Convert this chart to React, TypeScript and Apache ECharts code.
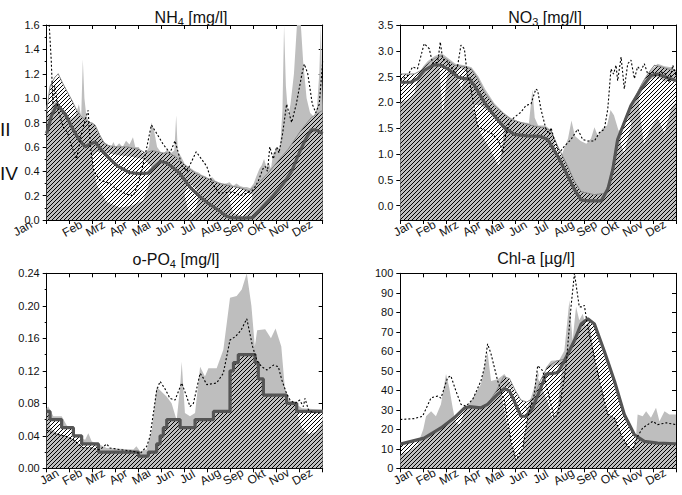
import React, { useEffect, useRef } from 'react';
import * as echarts from 'echarts';

type P = [number, number];
type H = [number, number, number][];

const months = ['Jan', 'Feb', 'Mrz', 'Apr', 'Mai', 'Jun', 'Jul', 'Aug', 'Sep', 'Okt', 'Nov', 'Dez'];
const monthTicks = [0, 1, 2, 3, 4, 5, 6, 7, 8, 9, 10, 11, 12];

// ---------- NH4 ----------
const nh4YTicks = [0, 0.2, 0.4, 0.6, 0.8, 1.0, 1.2, 1.4, 1.6];
const nh4Grey: P[] = [[0,0.95],[0.1,0.85],[0.25,0.95],[0.45,0.98],[0.65,0.92],[0.85,0.88],[1.05,0.83],[1.25,0.86],[1.4,0.95],[1.5,0.85],[1.57,1.32],[1.64,1.0],[1.72,0.86],[1.85,0.8],[2.0,0.8],[2.2,0.74],[2.35,0.68],[2.5,0.64],[2.65,0.62],[2.8,0.6],[2.9,0.64],[3.0,0.6],[3.15,0.63],[3.3,0.6],[3.45,0.65],[3.6,0.62],[3.75,0.68],[3.85,0.6],[4.0,0.6],[4.15,0.55],[4.3,0.55],[4.45,0.6],[4.55,0.8],[4.65,0.75],[4.8,0.6],[4.95,0.56],[5.1,0.55],[5.25,0.58],[5.4,0.55],[5.55,0.57],[5.63,0.86],[5.7,0.56],[5.85,0.52],[6.0,0.46],[6.15,0.44],[6.3,0.42],[6.45,0.4],[6.6,0.39],[6.75,0.37],[6.9,0.36],[7.05,0.34],[7.2,0.35],[7.35,0.32],[7.5,0.31],[7.65,0.3],[7.8,0.3],[7.95,0.31],[8.1,0.28],[8.25,0.3],[8.4,0.28],[8.55,0.27],[8.7,0.27],[8.85,0.26],[9.0,0.3],[9.1,0.35],[9.25,0.42],[9.35,0.45],[9.45,0.5],[9.55,0.44],[9.65,0.47],[9.75,0.42],[9.85,0.55],[10.0,0.58],[10.15,0.6],[10.25,0.9],[10.32,1.6],[10.4,1.1],[10.5,0.85],[10.6,0.95],[10.75,1.2],[10.88,1.6],[11.05,1.6],[11.15,1.3],[11.3,1.0],[11.45,0.88],[11.6,0.85],[11.75,0.92],[11.85,1.2],[11.92,1.6],[12,0.95]];
const nh4Hatch: P[] = [[0,0.9],[0.15,1.1],[0.35,1.17],[0.5,1.2],[0.7,1.12],[0.9,1.05],[1.1,0.98],[1.3,0.9],[1.5,0.85],[1.7,0.82],[1.9,0.8],[2.1,0.78],[2.3,0.7],[2.5,0.63],[2.7,0.61],[3.0,0.6],[3.5,0.6],[4.0,0.58],[4.3,0.55],[4.6,0.57],[5.0,0.55],[5.3,0.55],[5.6,0.52],[5.9,0.47],[6.2,0.42],[6.5,0.38],[7.0,0.34],[7.5,0.3],[8.0,0.28],[8.5,0.26],[8.8,0.24],[9.0,0.27],[9.3,0.32],[9.6,0.38],[10.0,0.47],[10.5,0.58],[11.0,0.72],[11.5,0.84],[12,0.9]];
const nh4Model: P[] = [[0,0.71],[0.2,0.85],[0.45,0.95],[0.8,0.87],[1.1,0.76],[1.4,0.66],[1.67,0.6],[1.85,0.62],[2.1,0.64],[2.4,0.57],[2.75,0.5],[3.1,0.44],[3.6,0.39],[4.0,0.38],[4.4,0.385],[4.7,0.44],[4.95,0.48],[5.2,0.47],[5.5,0.43],[5.8,0.38],[6.23,0.27],[6.67,0.19],[7.0,0.14],[7.39,0.09],[7.83,0.03],[8.0,0.02],[8.5,0.015],[8.95,0.02],[9.2,0.07],[9.5,0.13],[9.85,0.2],[10.3,0.3],[10.65,0.4],[11.0,0.56],[11.25,0.66],[11.5,0.74],[11.7,0.74],[12,0.71]];
const nh4Obs: P[] = [[0.08,1.7],[0.2,1.3],[0.27,0.95],[0.35,1.1],[0.5,0.9],[0.65,0.8],[0.75,0.75],[0.9,0.72],[1.1,0.6],[1.3,0.5],[1.5,0.7],[1.67,0.82],[1.8,0.9],[1.9,0.6],[2.05,0.4],[2.3,0.33],[2.75,0.3],[3.05,0.25],[3.5,0.21],[3.77,0.2],[3.9,0.26],[4.1,0.38],[4.3,0.55],[4.55,0.78],[4.75,0.72],[5.07,0.62],[5.36,0.55],[5.58,0.65],[5.87,0.45],[6.1,0.4],[6.5,0.56],[6.96,0.44],[7.2,0.3],[7.5,0.22],[8.1,0.23],[8.4,0.2],[8.7,0.22],[9.0,0.25],[9.2,0.32],[9.4,0.42],[9.5,0.44],[9.6,0.4],[9.7,0.6],[9.85,0.5],[10.0,0.6],[10.1,0.55],[10.25,0.7],[10.43,0.95],[10.65,0.8],[10.85,0.95],[11.1,1.2],[11.2,1.28],[11.35,1.2],[11.55,0.95],[11.7,0.88],[11.85,0.95],[12,1.3]];
const nh4Holes: H[] = [
  [[1.95,0.5,0.52],[2.2,0.28,0.56],[2.6,0.15,0.55],[3.2,0.1,0.53],[3.7,0.12,0.52],[4.2,0.16,0.5],[4.45,0.3,0.46],[4.55,0.43,0.44]],
  [[6.0,0.2,0.22],[6.15,0.08,0.3],[6.35,0.05,0.28],[6.5,0.1,0.25],[6.6,0.2,0.21]],
  [[7.9,0.2,0.22],[8.1,0.06,0.27],[8.5,0.03,0.25],[8.8,0.08,0.22],[8.95,0.2,0.21]],
];

// ---------- NO3 ----------
const no3YTicks = [0, 0.5, 1.0, 1.5, 2.0, 2.5, 3.0, 3.5];
const no3YMin = -0.28;
const no3Grey: P[] = [[0,2.0],[0.3,2.05],[0.6,2.15],[0.8,2.55],[1.0,2.7],[1.2,2.8],[1.5,2.9],[1.8,2.95],[2.1,2.85],[2.4,2.75],[2.8,2.72],[3.1,2.68],[3.4,2.5],[3.7,2.25],[4.1,1.98],[4.5,1.8],[4.8,1.7],[5.2,1.62],[5.6,1.6],[5.75,2.25],[5.85,1.7],[6.0,1.55],[6.3,1.55],[6.6,1.45],[6.8,1.0],[7.0,0.95],[7.3,1.3],[7.45,1.65],[7.6,1.35],[7.85,1.25],[8.1,1.2],[8.3,1.3],[8.45,1.52],[8.6,1.35],[8.8,1.5],[9.0,1.55],[9.15,1.85],[9.3,1.75],[9.5,1.45],[9.65,1.5],[9.8,1.7],[10.0,1.95],[10.3,2.2],[10.6,2.45],[10.9,2.62],[11.2,2.75],[11.5,2.7],[11.8,2.68],[12,2.62]];
const no3Hatch: P[] = [[0,2.55],[0.61,2.55],[0.9,2.62],[1.19,2.75],[1.48,2.85],[1.77,2.9],[2.06,2.82],[2.35,2.72],[2.79,2.69],[3.08,2.65],[3.37,2.46],[3.66,2.2],[4.09,1.94],[4.53,1.77],[4.82,1.67],[5.25,1.61],[5.83,1.54],[6.27,1.51],[6.56,1.45],[6.85,1.15],[7.29,0.76],[7.58,0.47],[7.87,0.27],[8.45,0.21],[8.88,0.24],[9.1,0.44],[9.32,0.96],[9.61,1.48],[9.9,1.81],[10.19,2.07],[10.48,2.33],[10.77,2.55],[11.06,2.72],[11.35,2.69],[11.64,2.65],[12,2.62]];
const no3Model: P[] = [[0,2.39],[0.46,2.39],[0.75,2.46],[1.04,2.62],[1.48,2.73],[1.77,2.72],[2.06,2.65],[2.5,2.49],[2.79,2.46],[3.0,2.46],[3.22,2.33],[3.66,2.0],[4.09,1.74],[4.53,1.51],[4.96,1.38],[5.54,1.35],[6.12,1.34],[6.41,1.28],[6.85,0.96],[7.29,0.57],[7.58,0.31],[7.87,0.11],[8.16,0.09],[8.74,0.09],[9.03,0.31],[9.25,0.7],[9.46,1.28],[9.75,1.61],[10.04,1.94],[10.48,2.26],[10.91,2.52],[11.2,2.55],[12,2.42]];
const no3Obs: P[] = [[0,2.42],[0.32,2.52],[0.54,2.69],[0.75,2.65],[1.04,3.14],[1.26,3.04],[1.41,2.75],[1.63,2.78],[1.74,3.17],[1.84,2.85],[2.06,2.78],[2.35,2.59],[2.5,2.72],[2.64,3.11],[2.79,3.04],[2.9,2.59],[3.08,2.26],[3.22,1.87],[3.37,1.54],[3.58,1.48],[3.95,1.41],[4.24,1.28],[4.38,1.15],[4.46,1.02],[4.6,1.41],[4.75,1.61],[4.96,1.71],[5.25,1.81],[5.47,1.94],[5.69,1.97],[5.9,2.26],[5.98,2.23],[6.12,1.87],[6.34,1.48],[6.49,1.38],[6.56,1.51],[6.7,1.28],[6.92,1.02],[7.14,1.15],[7.43,1.28],[7.72,1.48],[7.94,1.28],[8.16,1.25],[8.45,1.25],[8.66,1.41],[8.88,1.48],[9.03,1.87],[9.17,2.65],[9.28,2.55],[9.39,2.72],[9.46,2.42],[9.61,2.88],[9.75,2.26],[9.9,2.75],[10.04,2.82],[10.19,2.46],[10.33,2.69],[10.48,2.62],[10.62,2.75],[10.77,2.55],[10.99,2.59],[11.2,2.46],[11.35,2.59],[11.55,2.55],[11.71,2.39],[11.86,2.72],[12,2.52]];
const no3Holes: H[] = [
  [[1.7,2.7,2.75],[1.85,1.7,2.75],[2.0,2.4,2.7],[2.1,2.66,2.68]],
  [[2.45,2.6,2.62],[2.65,2.25,2.66],[2.9,2.58,2.6]],
  [[3.15,1.9,1.95],[3.5,1.4,1.95],[3.9,1.1,1.8],[4.3,0.75,1.65],[4.45,1.2,1.5],[4.5,1.45,1.5]],
  [[9.6,1.2,1.3],[9.75,1.0,1.6],[9.9,1.3,1.7],[10.05,1.55,1.6]],
  [[10.4,1.9,2.1],[10.6,1.2,2.35],[10.9,1.5,2.45],[11.2,1.7,2.5],[11.5,1.4,2.4],[11.8,1.9,2.45],[12,2.0,2.4]],
];

// ---------- o-PO4 ----------
const po4YTicks = [0, 0.04, 0.08, 0.12, 0.16, 0.2, 0.24];
const po4Grey: P[] = [[0,0.074],[0.07,0.076],[0.29,0.064],[0.65,0.064],[0.87,0.053],[1.09,0.047],[1.3,0.039],[1.67,0.035],[1.81,0.043],[1.96,0.033],[2.32,0.029],[2.61,0.025],[3.77,0.023],[3.9,0.027],[4.06,0.021],[4.35,0.023],[4.57,0.047],[4.78,0.1],[4.93,0.096],[5.22,0.088],[5.43,0.08],[5.65,0.059],[5.8,0.1],[5.87,0.131],[6.01,0.068],[6.23,0.064],[6.45,0.068],[6.67,0.125],[6.88,0.113],[7.03,0.123],[7.39,0.123],[7.68,0.146],[7.97,0.21],[8.26,0.212],[8.48,0.22],[8.7,0.24],[8.9,0.2],[9.05,0.15],[9.15,0.17],[9.5,0.171],[9.75,0.16],[9.95,0.172],[10.2,0.15],[10.35,0.1],[10.5,0.085],[10.8,0.08],[11.1,0.074],[12,0.072]];
const po4Model: P[] = [[0,0.07],[0.145,0.06],[0.65,0.05],[1.16,0.04],[1.52,0.03],[2.25,0.02],[3.99,0.015],[4.42,0.02],[4.78,0.03],[4.93,0.04],[5.07,0.05],[5.22,0.06],[5.8,0.05],[6.45,0.06],[7.25,0.07],[7.97,0.12],[8.12,0.13],[8.33,0.14],[9.06,0.13],[9.2,0.11],[9.42,0.09],[10.43,0.08],[10.87,0.07],[12,0.07]];
const po4Obs: P[] = [[0,0.047],[0.29,0.043],[0.87,0.039],[1.16,0.035],[1.59,0.025],[1.96,0.025],[2.17,0.023],[2.32,0.023],[2.61,0.03],[2.75,0.025],[3.19,0.023],[3.77,0.021],[4.06,0.018],[4.35,0.027],[4.49,0.039],[4.64,0.068],[4.78,0.096],[4.93,0.107],[5.14,0.098],[5.36,0.086],[5.58,0.084],[5.87,0.105],[6.09,0.088],[6.23,0.076],[6.38,0.08],[6.67,0.117],[6.81,0.111],[6.96,0.103],[7.39,0.105],[7.68,0.117],[7.97,0.158],[8.2,0.162],[8.45,0.17],[8.7,0.184],[8.95,0.15],[9.15,0.132],[9.35,0.125],[9.57,0.121],[9.86,0.127],[10.07,0.125],[10.22,0.109],[10.43,0.092],[10.58,0.084],[10.8,0.08],[11.0,0.084],[11.16,0.076],[11.23,0.086],[11.38,0.072],[11.59,0.068],[12,0.068]];
const po4Holes: H[] = [
  [[0.15,0.05,0.058],[0.4,0.044,0.059],[0.6,0.042,0.059],[0.66,0.041,0.049],[0.9,0.039,0.049],[1.15,0.036,0.049],[1.18,0.035,0.039],[1.5,0.028,0.039],[1.54,0.026,0.029],[2.0,0.025,0.029],[2.2,0.023,0.025]],
  [[10.9,0.066,0.067],[11.1,0.05,0.069],[11.4,0.042,0.069],[11.7,0.045,0.069],[11.95,0.055,0.069],[12,0.06,0.069]],
];

// ---------- Chl-a ----------
const chlYTicks = [0, 10, 20, 30, 40, 50, 60, 70, 80, 90, 100];
const chlGrey: P[] = [[0,7],[0.4,9],[0.75,12],[1.0,20],[1.12,26.7],[1.34,29.3],[1.55,26.7],[1.77,32.8],[1.99,48.3],[2.13,41.4],[2.28,31],[2.4,24],[2.6,22],[2.8,30],[3.08,34.5],[3.51,43.1],[3.8,59.5],[3.95,44.8],[4.24,45.7],[4.53,48.3],[4.82,43.1],[5.11,34.5],[5.33,32.8],[5.54,31],[5.83,41.4],[5.98,50],[6.12,43.1],[6.34,51.7],[6.56,55.2],[6.92,55.5],[7.14,60.3],[7.36,86.2],[7.5,65.5],[7.65,82.8],[7.79,75.9],[7.94,79.3],[8.08,72.4],[8.23,75.9],[8.35,65],[8.45,57],[8.74,41.4],[9.03,27.6],[9.32,25.9],[9.61,17.2],[9.9,11.2],[10.12,9.5],[10.25,15],[10.33,27.6],[10.55,26.7],[10.7,29.3],[10.91,25.9],[11.13,31],[11.28,24.1],[11.5,29.3],[11.71,27.6],[12,27.6]];
const chlHatch: P[] = [[0,12.4],[1.0,15.5],[1.8,21],[2.35,26],[2.8,31],[3.5,31.5],[3.8,33],[4.2,40],[4.5,47],[4.75,46],[5.0,40],[5.25,35],[5.5,34],[5.8,36],[6.1,45],[6.4,52],[6.8,55],[7.14,56],[7.6,66],[7.9,74],[8.16,77],[8.45,74],[8.9,60],[9.3,45],[9.75,28],[10.2,17],[10.6,13.5],[11.2,12.8],[12,12.6]];
const chlModel: P[] = [[0,12.4],[1.04,15.5],[1.77,20.7],[2.35,25.9],[2.8,31],[3.0,31.6],[3.5,31],[3.8,32.8],[4.24,38],[4.53,40.9],[4.75,39.7],[4.96,34.5],[5.25,26.7],[5.47,26.7],[5.76,31],[6.12,41.4],[6.34,48.3],[6.85,49],[7.14,55],[7.58,65.5],[7.87,74],[8.16,76.7],[8.45,74],[8.88,60],[9.32,44.8],[9.75,27.6],[10.19,17.2],[10.62,13.8],[11.2,12.9],[12,12.6]];
const chlObs: P[] = [[0,25],[0.61,25.5],[0.97,26.7],[1.34,36.2],[1.63,37],[1.77,36],[2.06,46.5],[2.2,47.4],[2.42,39.7],[2.64,32.8],[2.86,31.9],[3.15,35.3],[3.51,44.8],[3.66,51.7],[3.8,63.8],[3.95,58.6],[4.24,44.8],[4.53,34.5],[4.82,13.8],[5.04,4.3],[5.33,10.3],[5.54,25.9],[5.83,37.9],[5.98,52.6],[6.2,50],[6.42,39.7],[6.7,25.9],[6.85,27.6],[7.0,36.2],[7.21,51.7],[7.43,82.8],[7.58,100],[7.79,82.8],[7.94,82.8],[8.01,83.6],[8.16,72.4],[8.45,56.9],[8.74,41.4],[9.03,27.6],[9.32,25.9],[9.61,17.2],[9.9,11.2],[10.12,9.5],[10.33,16.4],[10.55,20.7],[10.99,24.1],[11.2,22.4],[11.57,23.3],[12,22.4]];
const chlHoles: H[] = [
  [[4.4,38,40],[4.6,25,42],[4.82,13.8,41],[5.04,4.3,37],[5.2,7,34],[5.33,10.3,33],[5.45,20,31],[5.55,26,28],[5.6,29,29.5]],
  [[6.0,46,47],[6.2,40,50],[6.42,34,51],[6.6,26,52],[6.72,26,53],[6.85,31,53],[6.95,42,53],[7.05,52,53]],
];

// ---------- styling ----------
const FONT = '"Liberation Sans", Arial, Helvetica, sans-serif';
const GREY = '#bebebe';
const DARK = '#555555';
const hatchSvg =
  '<svg xmlns="http://www.w3.org/2000/svg" width="4" height="4">' +
  '<path d="M-1,1 L1,-1 M0,4 L4,0 M3,5 L5,3" stroke="#000" stroke-width="1"/></svg>';
const HATCH: any = {
  image: 'data:image/svg+xml;charset=utf-8,' + encodeURIComponent(hatchSvg),
  repeat: 'repeat',
  imageWidth: 4,
  imageHeight: 4,
};

const panels = [
  { grid: { left: 46.7, top: 25, width: 276, height: 195 }, grey: nh4Grey, hatch: nh4Hatch, model: nh4Model, obs: nh4Obs, holes: nh4Holes, step: false, ticks: nh4YTicks, yMin: 0, custom: false, dec: 1, minor: true, title: ['NH', '4', ' [mg/l]'], tx: 191, ty: 7 },
  { grid: { left: 400.3, top: 25, width: 275.7, height: 195 }, grey: no3Grey, hatch: no3Hatch, model: no3Model, obs: no3Obs, holes: no3Holes, step: false, ticks: no3YTicks, yMin: no3YMin, custom: true, dec: 1, minor: false, title: ['NO', '3', ' [mg/l]'], tx: 545, ty: 7 },
  { grid: { left: 46.7, top: 273.3, width: 276, height: 195 }, grey: po4Grey, hatch: po4Model, model: po4Model, obs: po4Obs, holes: po4Holes, step: true, ticks: po4YTicks, yMin: 0, custom: false, dec: 2, minor: true, title: ['o-PO', '4', ' [mg/l]'], tx: 176, ty: 249 },
  { grid: { left: 400.3, top: 273.3, width: 275.7, height: 195 }, grey: chlGrey, hatch: chlHatch, model: chlModel, obs: chlObs, holes: chlHoles, step: false, ticks: chlYTicks, yMin: 0, custom: false, dec: 0, minor: false, title: ['Chl-a [µg/l]', '', ''], tx: 536, ty: 248 },
];

function buildOption() {
  const grid: any[] = [];
  const xAxis: any[] = [];
  const yAxis: any[] = [];
  const series: any[] = [];
  const graphic: any[] = [];
  const black = { color: '#000', width: 1 };

  panels.forEach((p, g) => {
    grid.push({ ...p.grid, containLabel: false, outerBoundsMode: 'none' });
    const yMax = p.ticks[p.ticks.length - 1];
    const interval = p.ticks[1] - p.ticks[0];
    xAxis.push({
      gridIndex: g, type: 'value', position: 'bottom', min: monthTicks[0], max: monthTicks[monthTicks.length - 1], interval: 1,
      axisLine: { show: true, onZero: false, lineStyle: black },
      axisTick: { show: true, inside: false, length: 4, lineStyle: black },
      splitLine: { show: false },
      axisLabel: {
        show: true, rotate: 30, align: 'center', verticalAlign: 'middle', margin: 10, padding: [0, 0, 0, 6],
        fontSize: 12, fontFamily: FONT, color: '#111', hideOverlap: false, showMinLabel: true, showMaxLabel: true,
        formatter: (v: number) => {
          const i = Math.round(v);
          if (i < 0 || i > 11) return '';
          if (g === 0 && i === 0) return '{j|' + months[0] + '}';
          return months[i];
        },
        rich: { j: { fontSize: 12, fontFamily: FONT, color: '#111', padding: [0, 46, 27, 0] } },
      },
    });
    xAxis.push({
      gridIndex: g, type: 'value', position: 'top', min: 0, max: 12, interval: 1,
      axisLine: { show: true, onZero: false, lineStyle: black },
      axisTick: { show: true, inside: true, length: 4, lineStyle: black },
      axisLabel: { show: false }, splitLine: { show: false },
    });
    const yBase: any = { gridIndex: g, type: 'value', min: p.yMin, max: yMax, splitLine: { show: false } };
    if (!p.custom) yBase.interval = interval;
    yAxis.push({
      ...yBase, position: 'left',
      axisLine: { show: true, onZero: false, lineStyle: black },
      axisTick: { show: true, inside: false, length: 4, lineStyle: black, ...(p.custom ? { customValues: p.ticks } : {}) },
      minorTick: { show: p.minor, splitNumber: 2, length: 2, lineStyle: black },
      axisLabel: {
        show: true, margin: 7, fontSize: 11, fontFamily: FONT, color: '#111', showMinLabel: true, showMaxLabel: true,
        formatter: (v: number) => Number(v).toFixed(p.dec),
        ...(p.custom ? { customValues: p.ticks } : {}),
      },
    });
    yAxis.push({
      ...yBase, position: 'right',
      axisLine: { show: true, onZero: false, lineStyle: black },
      axisTick: { show: true, inside: true, length: 4, lineStyle: black, ...(p.custom ? { customValues: p.ticks } : {}) },
      axisLabel: { show: false },
    });

    const xi = 2 * g;
    const yi = 2 * g;
    series.push({
      type: 'line', xAxisIndex: xi, yAxisIndex: yi, data: p.grey, symbol: 'none', silent: true, z: 1,
      lineStyle: { width: 0, opacity: 0 }, areaStyle: { color: GREY, opacity: 1, origin: 'start' },
    });
    const holes = p.holes;
    series.push({
      type: 'custom', xAxisIndex: xi, yAxisIndex: yi, silent: true, z: 2, clip: true,
      data: holes.map((h) => [h[0][0], h[0][1]]),
      renderItem: (params: any, api: any) => {
        const h = holes[params.dataIndex];
        const top = h.map((q) => api.coord([q[0], q[2]]));
        const bot = h.slice().reverse().map((q) => api.coord([q[0], q[1]]));
        return { type: 'polygon', shape: { points: top.concat(bot) }, style: { fill: '#ffffff' } };
      },
    });
    series.push({
      type: 'line', xAxisIndex: xi, yAxisIndex: yi, data: p.hatch, symbol: 'none', silent: true, z: 4,
      step: p.step ? 'end' : false,
      lineStyle: { color: '#888888', width: p.step ? 0 : 1 }, areaStyle: { color: HATCH, opacity: 1, origin: 'start' },
    });
    series.push({
      type: 'line', xAxisIndex: xi, yAxisIndex: yi, data: p.model, symbol: 'none', silent: true, z: 5,
      step: p.step ? 'end' : false, lineStyle: { color: DARK, width: 3.2 },
    });
    series.push({
      type: 'line', xAxisIndex: xi, yAxisIndex: yi, data: p.obs, symbol: 'none', silent: true, z: 6,
      lineStyle: { color: '#000', width: 1.1, type: [2, 2] },
    });

    const [a, b, c] = p.title;
    const text = b ? `{m|${a}}{s|${b}}{m|${c}}` : `{m|${a}}`;
    graphic.push({
      type: 'text', x: p.tx, y: p.ty, z: 10,
      style: {
        text, align: 'center', verticalAlign: 'top',
        rich: {
          m: { fontSize: 16, fontFamily: FONT, fill: '#111', lineHeight: 20 },
          s: { fontSize: 11, fontFamily: FONT, fill: '#111', lineHeight: 4, verticalAlign: 'bottom' },
        },
      },
    });
  });

  graphic.push({ type: 'text', x: 0, y: 120, style: { text: 'II', fontSize: 19, fontFamily: FONT, fill: '#111', verticalAlign: 'top' } });
  graphic.push({ type: 'text', x: 0, y: 164, style: { text: 'IV', fontSize: 19, fontFamily: FONT, fill: '#111', verticalAlign: 'top' } });

  return { animation: false, backgroundColor: '#ffffff', grid, xAxis, yAxis, series, graphic };
}

export default function App() {
  const ref = useRef<HTMLDivElement>(null);
  useEffect(() => {
    if (!ref.current) return;
    const chart = echarts.init(ref.current, null, { renderer: 'svg', width: 682, height: 495 });
    chart.setOption(buildOption() as any);
    return () => chart.dispose();
  }, []);
  return <div ref={ref} style={{ position: 'fixed', left: 0, top: 0, width: 682, height: 495, background: '#fff' }} />;
}
